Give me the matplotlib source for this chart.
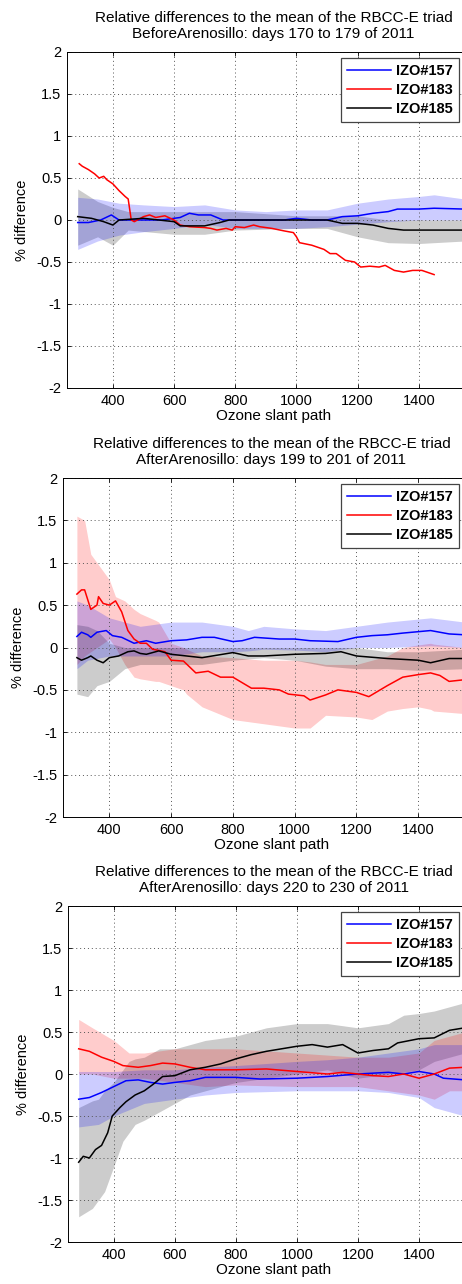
import numpy as np
import matplotlib.pyplot as plt

plt.rcParams['font.family'] = ['Liberation Sans', 'DejaVu Sans']

labels = ['IZO#157', 'IZO#183', 'IZO#185']
colors = ['#0000ff', '#ff0000', '#000000']

titles = ['Relative differences to the mean of the RBCC-E triad\nBeforeArenosillo: days 170 to 179 of 2011',
          'Relative differences to the mean of the RBCC-E triad\nAfterArenosillo: days 199 to 201 of 2011',
          'Relative differences to the mean of the RBCC-E triad\nAfterArenosillo: days 220 to 230 of 2011']

# ---- period 1: days 170-179 ----
p1_blue_x = [285, 320, 360, 395, 420, 500, 560, 620, 650, 680, 720, 760, 800, 900, 960, 1000, 1050, 1100, 1150,
             1200, 1250, 1300, 1330, 1400, 1450, 1550]
p1_blue_y = [-0.03, -0.03, 0.0, 0.06, 0.0, 0.0, 0.0, 0.03, 0.08, 0.06, 0.06, 0.0, 0.0, 0.0, 0.0, 0.02, 0.0, 0.0, 0.04,
             0.05, 0.08, 0.1, 0.13, 0.13, 0.14, 0.13]
p1_blue_bx = [285, 350, 420, 500, 600, 700, 800, 900, 1000, 1100, 1200, 1300, 1400, 1450, 1550]
p1_blue_lo = [-0.35, -0.25, -0.18, -0.14, -0.1, -0.05, -0.1, -0.1, -0.1, -0.08, -0.05, -0.02, 0.0, 0.0, 0.0]
p1_blue_hi = [0.27, 0.25, 0.2, 0.18, 0.16, 0.18, 0.12, 0.1, 0.12, 0.12, 0.2, 0.25, 0.28, 0.3, 0.25]

p1_red_x = [290, 300, 320, 340, 355, 370, 380, 400, 420, 440, 450, 460, 470, 500, 520, 540, 570, 600, 620, 650,
            700, 720, 740, 770, 790, 800, 830, 860, 880, 920, 960, 990, 1000, 1010, 1050, 1090, 1110, 1130, 1160,
            1190, 1210, 1240, 1270, 1290, 1320, 1350, 1380, 1410, 1450]
p1_red_y = [0.67, 0.64, 0.6, 0.55, 0.5, 0.52, 0.48, 0.43, 0.35, 0.28, 0.25, 0.0, -0.02, 0.04, 0.06, 0.03, 0.05, 0.0,
            -0.06, -0.08, -0.09, -0.1, -0.12, -0.1, -0.12, -0.08, -0.09, -0.06, -0.08, -0.1, -0.13, -0.15, -0.2,
            -0.27, -0.3, -0.35, -0.4, -0.4, -0.48, -0.5, -0.56, -0.55, -0.56, -0.54, -0.6, -0.62, -0.6, -0.6, -0.65]

p1_black_x = [285, 330, 370, 400, 420, 500, 600, 620, 700, 750, 780, 900, 1000, 1100, 1150, 1200, 1250, 1300, 1350,
              1450, 1550]
p1_black_y = [0.04, 0.02, -0.02, -0.06, 0.0, 0.02, -0.02, -0.07, -0.07, -0.03, 0.0, 0.0, 0.0, 0.0, -0.04, -0.04,
              -0.06, -0.1, -0.12, -0.12, -0.12]
p1_black_bx = [285, 350, 400, 450, 600, 700, 800, 1000, 1100, 1200, 1300, 1400, 1550]
p1_black_lo = [-0.3, -0.2, -0.3, -0.12, -0.17, -0.17, -0.12, -0.1, -0.1, -0.2, -0.27, -0.28, -0.25]
p1_black_hi = [0.37, 0.22, 0.15, 0.1, 0.1, 0.1, 0.1, 0.05, 0.05, 0.05, 0.0, 0.0, 0.0]

# ---- period 2: days 199-201 ----
p2_blue_x = [295, 310, 330, 340, 360, 390, 410, 440, 480, 520, 550, 600, 650, 700, 740, 800, 830, 870, 950, 1000,
             1050, 1140, 1200, 1250, 1300, 1350, 1440, 1500, 1550]
p2_blue_y = [0.13, 0.18, 0.15, 0.12, 0.18, 0.2, 0.14, 0.12, 0.05, 0.08, 0.05, 0.08, 0.09, 0.12, 0.12, 0.07, 0.08,
             0.12, 0.1, 0.1, 0.08, 0.07, 0.12, 0.14, 0.15, 0.17, 0.2, 0.16, 0.15]
p2_blue_bx = [295, 330, 400, 450, 500, 600, 700, 800, 850, 900, 1000, 1100, 1200, 1300, 1440, 1550]
p2_blue_lo = [-0.25, -0.15, -0.1, -0.1, -0.1, -0.1, -0.05, -0.05, -0.04, -0.02, -0.03, -0.05, 0.0, 0.0, 0.02, 0.0]
p2_blue_hi = [0.55, 0.5, 0.35, 0.3, 0.25, 0.3, 0.3, 0.25, 0.2, 0.25, 0.22, 0.2, 0.25, 0.3, 0.35, 0.3]

p2_red_x = [295, 310, 320, 340, 360, 365, 380, 400, 420, 440, 460, 480, 500, 520, 540, 580, 600, 640, 680, 720,
            760, 800, 860, 900, 950, 980, 1030, 1050, 1100, 1140, 1200, 1240, 1300, 1350, 1400, 1440, 1470, 1500,
            1550]
p2_red_y = [0.63, 0.68, 0.68, 0.45, 0.5, 0.6, 0.52, 0.5, 0.55, 0.42, 0.2, 0.1, 0.05, 0.05, -0.02, -0.05, -0.15,
            -0.16, -0.3, -0.28, -0.35, -0.35, -0.48, -0.48, -0.5, -0.55, -0.57, -0.62, -0.56, -0.5, -0.53, -0.58,
            -0.45, -0.35, -0.32, -0.3, -0.33, -0.4, -0.38]
p2_red_bx = [295, 320, 340, 360, 380, 400, 420, 450, 480, 500, 550, 560, 600, 640, 650, 700, 800, 900, 1000, 1050,
             1100, 1200, 1250, 1300, 1350, 1400, 1440, 1450, 1550]
p2_red_lo = [-0.2, -0.1, -0.05, 0.0, 0.05, 0.1, 0.0, -0.2, -0.35, -0.37, -0.4, -0.4, -0.45, -0.5, -0.55, -0.7,
             -0.85, -0.9, -0.95, -0.95, -0.8, -0.82, -0.85, -0.75, -0.72, -0.7, -0.73, -0.75, -0.78]
p2_red_hi = [1.55, 1.5, 1.1, 1.0, 0.9, 0.8, 0.6, 0.55, 0.45, 0.4, 0.32, 0.3, 0.05, 0.0, -0.02, -0.1, -0.12, -0.15,
             -0.15, -0.17, -0.2, -0.2, -0.15, -0.1, 0.0, 0.03, 0.05, 0.04, 0.0]

p2_black_x = [295, 310, 330, 340, 360, 380, 400, 430, 460, 480, 500, 520, 560, 600, 700, 800, 850, 900, 1000, 1100,
              1150, 1200, 1300, 1400, 1440, 1500, 1550]
p2_black_y = [-0.12, -0.15, -0.12, -0.1, -0.15, -0.18, -0.12, -0.1, -0.05, -0.04, -0.07, -0.08, -0.04, -0.08,
              -0.12, -0.06, -0.1, -0.1, -0.08, -0.07, -0.05, -0.1, -0.13, -0.15, -0.18, -0.13, -0.13]
p2_black_bx = [295, 330, 360, 400, 450, 500, 600, 700, 800, 900, 1000, 1100, 1200, 1300, 1400, 1550]
p2_black_lo = [-0.55, -0.58, -0.45, -0.4, -0.25, -0.2, -0.2, -0.2, -0.15, -0.12, -0.15, -0.22, -0.25, -0.25,
               -0.27, -0.25]
p2_black_hi = [0.27, 0.25, 0.2, 0.05, 0.0, 0.0, 0.0, 0.0, 0.0, 0.0, 0.0, 0.0, 0.0, -0.05, -0.05, -0.02]

# ---- period 3: days 220-230 ----
p3_blue_x = [285, 320, 360, 400, 440, 480, 520, 560, 600, 650, 700, 800, 880, 1000, 1100, 1200, 1300, 1350, 1400,
             1450, 1480, 1550]
p3_blue_y = [-0.3, -0.28, -0.22, -0.15, -0.08, -0.07, -0.1, -0.12, -0.1, -0.08, -0.04, -0.04, -0.06, -0.05, -0.03,
             0.0, 0.02, 0.0, 0.03, 0.0, -0.05, -0.07]
p3_blue_bx = [285, 350, 400, 500, 600, 700, 800, 1000, 1100, 1200, 1300, 1400, 1450, 1550]
p3_blue_lo = [-0.63, -0.6, -0.5, -0.35, -0.3, -0.25, -0.22, -0.2, -0.2, -0.2, -0.22, -0.28, -0.4, -0.5]
p3_blue_hi = [0.03, 0.03, 0.03, 0.05, 0.05, 0.08, 0.1, 0.15, 0.17, 0.2, 0.25, 0.3, 0.35, 0.35]

p3_red_x = [285, 320, 360, 400, 430, 480, 520, 560, 600, 650, 700, 800, 900, 1000, 1100, 1150, 1200, 1250, 1300,
            1350, 1400, 1450, 1500, 1550]
p3_red_y = [0.3, 0.27, 0.2, 0.15, 0.1, 0.08, 0.1, 0.13, 0.12, 0.08, 0.05, 0.05, 0.06, 0.03, 0.0, 0.02, 0.0, -0.02,
            -0.03, 0.0, -0.05, 0.0, 0.07, 0.08]
p3_red_bx = [285, 330, 400, 450, 500, 600, 700, 800, 1000, 1200, 1300, 1400, 1450, 1500, 1550]
p3_red_lo = [0.0, 0.0, -0.05, -0.05, -0.05, -0.1, -0.15, -0.13, -0.15, -0.15, -0.2, -0.25, -0.3, -0.2, -0.2]
p3_red_hi = [0.65, 0.55, 0.4, 0.25, 0.25, 0.3, 0.3, 0.3, 0.25, 0.2, 0.2, 0.25, 0.4, 0.45, 0.5]

p3_black_x = [285, 300, 320, 340, 360, 380, 395, 420, 440, 470, 500, 530, 560, 600, 650, 700, 750, 800, 850, 900,
              950, 1000, 1050, 1100, 1150, 1200, 1250, 1300, 1330, 1400, 1450, 1500, 1550]
p3_black_y = [-1.05, -0.98, -1.0, -0.9, -0.85, -0.7, -0.5, -0.4, -0.33, -0.25, -0.2, -0.12, -0.03, -0.02, 0.05,
              0.08, 0.12, 0.18, 0.23, 0.27, 0.3, 0.33, 0.35, 0.32, 0.35, 0.25, 0.28, 0.3, 0.37, 0.42, 0.43, 0.52,
              0.55]
p3_black_bx = [285, 330, 350, 370, 400, 430, 450, 470, 500, 550, 600, 650, 700, 800, 900, 1000, 1100, 1200, 1300,
               1350, 1400, 1450, 1550]
p3_black_lo = [-1.7, -1.6, -1.5, -1.4, -1.1, -0.8, -0.7, -0.6, -0.55, -0.45, -0.35, -0.25, -0.2, -0.1, -0.05, 0.0,
               0.05, -0.05, 0.0, 0.02, 0.05, 0.15, 0.25]
p3_black_hi = [-0.4, -0.32, -0.3, -0.2, -0.1, 0.05, 0.15, 0.18, 0.2, 0.3, 0.3, 0.35, 0.4, 0.45, 0.55, 0.6, 0.6,
               0.55, 0.6, 0.7, 0.72, 0.75, 0.85]

panels = [
    dict(lines=[(p1_blue_x, p1_blue_y), (p1_red_x, p1_red_y), (p1_black_x, p1_black_y)],
         bands=[(p1_black_bx, p1_black_lo, p1_black_hi, 2), (p1_blue_bx, p1_blue_lo, p1_blue_hi, 0)]),
    dict(lines=[(p2_blue_x, p2_blue_y), (p2_red_x, p2_red_y), (p2_black_x, p2_black_y)],
         bands=[(p2_red_bx, p2_red_lo, p2_red_hi, 1), (p2_black_bx, p2_black_lo, p2_black_hi, 2),
                (p2_blue_bx, p2_blue_lo, p2_blue_hi, 0)]),
    dict(lines=[(p3_blue_x, p3_blue_y), (p3_red_x, p3_red_y), (p3_black_x, p3_black_y)],
         bands=[(p3_black_bx, p3_black_lo, p3_black_hi, 2), (p3_red_bx, p3_red_lo, p3_red_hi, 1),
                (p3_blue_bx, p3_blue_lo, p3_blue_hi, 0)]),
]

W, H = 462, 1284
# axes boxes in pixels: left, top, bottom (right runs past the page edge)
boxes = [(67, 52, 388), (63, 478, 817), (68, 906, 1242)]
right_px = 480

fig = plt.figure(figsize=(W / 100, H / 100), dpi=100)

for p, (left, top, bottom), title in zip(panels, boxes, titles):
    ax = fig.add_axes([left / W, 1 - bottom / H, (right_px - left) / W, (bottom - top) / H])
    for bx, lo, hi, ci in p['bands']:
        ax.fill_between(bx, lo, hi, color=colors[ci], alpha=0.2, linewidth=0)
    for (x, y), c, lab in zip(p['lines'], colors, labels):
        ax.plot(x, y, color=c, lw=1.1, label=lab)

    ax.set_xlim(250, 1600)
    ax.set_ylim(-2, 2)
    ax.set_xticks([400, 600, 800, 1000, 1200, 1400])
    ax.set_yticks([-2, -1.5, -1, -0.5, 0, 0.5, 1, 1.5, 2])
    ax.set_yticklabels(['-2', '-1.5', '-1', '-0.5', '0', '0.5', '1', '1.5', '2'])
    ax.grid(True, linestyle=(0, (1, 3)), color='#555555', linewidth=0.7)
    ax.tick_params(direction='in', top=True, right=True, labelsize=10.5, length=3, pad=4, width=0.6)
    for s in ax.spines.values():
        s.set_linewidth(0.7)
    ax.set_title(title, fontsize=11, linespacing=1.2, pad=10)
    ax.set_xlabel('Ozone slant path', fontsize=11, labelpad=1)
    ax.set_ylabel('% difference', fontsize=10.5, labelpad=5)

    leg = ax.legend(loc='upper right', bbox_to_anchor=(459 / W, 1 - (top + 6) / H),
                    bbox_transform=fig.transFigure, fancybox=False, framealpha=1,
                    prop={'weight': 'bold', 'size': 10.5}, handlelength=3.0,
                    labelspacing=0.35, borderpad=0.4, handletextpad=0.4, borderaxespad=0)
    leg.get_frame().set_edgecolor('#444444')
    leg.get_frame().set_linewidth(0.9)

fig.savefig('out.png', dpi=100)
